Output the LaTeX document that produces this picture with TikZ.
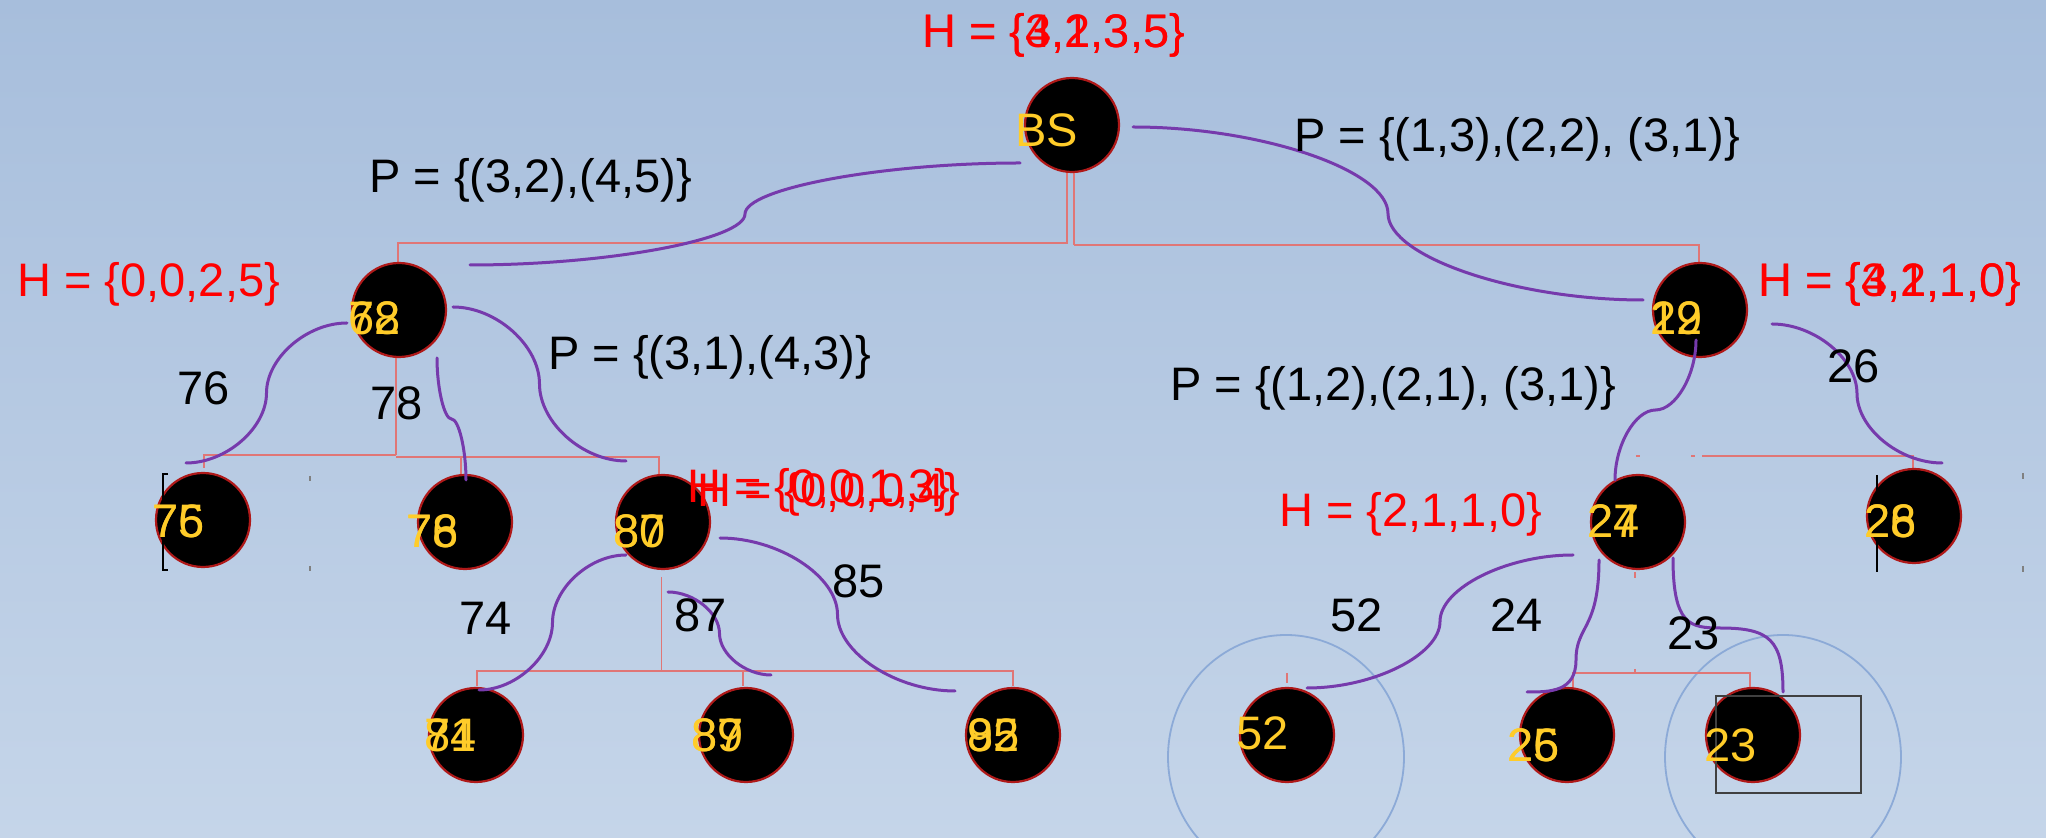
\documentclass[tikz,border=0pt]{standalone}
\usepackage{fontspec}
\setmainfont{Liberation Sans}
\definecolor{bgtop}{RGB}{167,190,220}
\definecolor{bgbot}{RGB}{197,213,233}
\definecolor{orgred}{RGB}{224,118,118}
\definecolor{purp}{RGB}{118,58,172}
\definecolor{gold}{RGB}{255,204,41}
\definecolor{ringred}{RGB}{175,25,25}
\definecolor{hred}{RGB}{255,0,0}
\definecolor{blring}{RGB}{140,170,215}
\definecolor{boxgray}{RGB}{64,64,64}
\begin{document}
\begin{tikzpicture}[x=0.5pt,y=-0.5pt,
 vtx/.style={circle,fill=black,draw=ringred,line width=1.1pt,minimum size=47pt,inner sep=0pt},
 txt/.style={anchor=base west,inner sep=0pt,font=\fontsize{23.5}{28}\selectfont},
 lbl/.style={txt,text=gold},
 htxt/.style={txt,text=hred},
 wtxt/.style={txt,text=black},
 org/.style={draw=orgred,line width=1.4pt},
 thinorg/.style={draw=orgred,line width=0.5pt},
 mp/.style={draw=purp,line width=1.5pt,line cap=round},
 ring/.style={draw=blring,line width=0.9pt},
 cursor/.style={draw=black,line width=1pt},
]
\shade[top color=bgtop,bottom color=bgbot] (0,0) rectangle (2046,838);
\useasboundingbox (0,0) rectangle (2046,838);

% blue rings
\draw[ring] (1286,757) ellipse [x radius=118, y radius=122];
\draw[ring] (1783,757) ellipse [x radius=118, y radius=122];

% org chart connectors (red)
\draw[org] (1067,172) -- (1067,243);
\draw[org] (1074,172) -- (1074,245);
\draw[org] (398,263) -- (398,243) -- (1068,243);
\draw[org] (1074,245) -- (1699,245) -- (1699,263);
\draw[org] (396,358) -- (396,455);
\draw[org] (204,468) -- (204,455) -- (396,455);
\draw[org] (396,457) -- (659,457) -- (659,474);
\draw[org] (461,457) -- (461,474);
\draw[thinorg] (661,577) -- (661,671);
\draw[org] (477,686) -- (477,671) -- (1013,671) -- (1013,686);
\draw[org] (743,671) -- (743,686);
\draw[org] (1702,456) -- (1913,456) -- (1913,472);
\draw[org] (1636,456) -- (1640,456);
\draw[org] (1691,456) -- (1695,456);
\draw[org] (1635,572) -- (1635,578);
\draw[org] (1573,688) -- (1573,673) -- (1750,673) -- (1750,688);
\draw[org] (1635,669) -- (1635,673);
\draw[org] (1287,673) -- (1287,683);

% vertices
\node[vtx] (bs) at (1072,125) {};
\node[vtx] (n62) at (399,310) {};
\node[vtx] (n12) at (1700,310) {};
\node[vtx] (n76) at (203,520) {};
\node[vtx] (n78) at (465,522) {};
\node[vtx] (n80) at (663,522) {};
\node[vtx] (n27) at (1638,522) {};
\node[vtx] (n28) at (1914,516) {};
\node[vtx] (n74) at (476,735) {};
\node[vtx] (n87) at (746,735) {};
\node[vtx] (n92) at (1013,735) {};
\node[vtx] (n52) at (1287,735) {};
\node[vtx] (n25) at (1567,735) {};
\node[vtx] (n23) at (1753,735) {};

% selection box and cursors
\draw[draw=boxgray,line width=1pt] (1716,696) rectangle (1861,793);
\draw[cursor] (168,474) -- (163,474) -- (163,570) -- (168,570);
\draw[draw=gray,line width=0.8pt] (310,476) -- (310,481) (310,566) -- (310,571);
\draw[cursor] (1877,475) -- (1877,572);
\draw[draw=gray,line width=0.8pt] (2023,473) -- (2023,479) (2023,566) -- (2023,572);

% purple curved connectors
\coordinate (p1s) at (1020,163); \coordinate (p1e) at (470,265);
\coordinate (p2s) at (1133,127); \coordinate (p2e) at (1643,300);
\coordinate (p3s) at (347,323);  \coordinate (p3e) at (186,463);
\coordinate (p4s) at (437,358);  \coordinate (p4e) at (466,480);
\coordinate (p5s) at (453,307);  \coordinate (p5e) at (626,461);
\coordinate (p6s) at (626,555);  \coordinate (p6e) at (479,690);
\coordinate (p7s) at (668,592);  \coordinate (p7e) at (771,675);
\coordinate (p8s) at (720,538);  \coordinate (p8e) at (955,691);
\coordinate (p9s) at (1696,340); \coordinate (p9e) at (1615,480);
\coordinate (p10s) at (1772,324); \coordinate (p10e) at (1942,463);
\coordinate (p11s) at (1573,555); \coordinate (p11e) at (1307,688);
\coordinate (p12s) at (1599,560); \coordinate (p12e) at (1527,692);
\coordinate (p13s) at (1673,558); \coordinate (p13e) at (1783,692);
\draw[mp] (p1s) .. controls (882.5,163) and (745,188.5) .. (745,214) .. controls (745,239.5) and (607.5,265) .. (p1e);
\draw[mp] (p2s) .. controls (1260.5,127) and (1388,170.25) .. (1388,213.5) .. controls (1388,256.75) and (1515.5,300) .. (p2e);
\draw[mp] (p3s) .. controls (306.75,323) and (266.5,358) .. (266.5,393) .. controls (266.5,428) and (226.25,463) .. (p3e);
\draw[mp] (p4s) .. controls (437,388.5) and (444.25,419) .. (451.5,419) .. controls (458.75,419) and (466,449.5) .. (p4e);
\draw[mp] (p5s) .. controls (496.25,307) and (539.5,345.5) .. (539.5,384) .. controls (539.5,422.5) and (582.75,461) .. (p5e);
\draw[mp] (p6s) .. controls (589.25,555) and (552.5,588.75) .. (552.5,622.5) .. controls (552.5,656.25) and (515.75,690) .. (p6e);
\draw[mp] (p7s) .. controls (693.75,592) and (719.5,612.75) .. (719.5,633.5) .. controls (719.5,654.25) and (745.25,675) .. (p7e);
\draw[mp] (p8s) .. controls (778.75,538) and (837.5,576.25) .. (837.5,614.5) .. controls (837.5,652.75) and (896.25,691) .. (p8e);
\draw[mp] (p9s) .. controls (1696,375) and (1675.75,410) .. (1655.5,410) .. controls (1635.25,410) and (1615,445) .. (p9e);
\draw[mp] (p10s) .. controls (1814.5,324) and (1857,358.75) .. (1857,393.5) .. controls (1857,428.25) and (1899.5,463) .. (p10e);
\draw[mp] (p11s) .. controls (1506.5,555) and (1440,588.25) .. (1440,621.5) .. controls (1440,654.75) and (1373.5,688) .. (p11e);
\draw[mp] (p12s) .. controls (1599,630) and (1576,625) .. (1576,660) .. controls (1576,692) and (1550,692) .. (p12e);
\draw[mp] (p13s) .. controls (1673,625) and (1690,628) .. (1720,628) .. controls (1770,628) and (1783,640) .. (p13e);

% vertex labels (overlapping pairs)
\node[lbl] (lbs) at (1015,147) {BS};
\node[lbl] (l62a) at (348,335) {62};
\node[lbl] (l62b) at (348,335) {78};
\node[lbl] (l12a) at (1650,335) {12};
\node[lbl] (l12b) at (1650,335) {29};
\node[lbl] (l76a) at (152,538) {76};
\node[lbl] (l76b) at (152,538) {75};
\node[lbl] (l78a) at (406,548) {78};
\node[lbl] (l78b) at (406,548) {76};
\node[lbl] (l80a) at (613,548) {80};
\node[lbl] (l80b) at (613,548) {87};
\node[lbl] (l27a) at (1587,538) {24};
\node[lbl] (l27b) at (1587,538) {27};
\node[lbl] (l28a) at (1864,538) {26};
\node[lbl] (l28b) at (1864,538) {28};
\node[lbl] (l74a) at (424,752) {74};
\node[lbl] (l74b) at (424,752) {81};
\node[lbl] (l87a) at (691,752) {87};
\node[lbl] (l87b) at (691,752) {89};
\node[lbl] (l92a) at (967,752) {92};
\node[lbl] (l92b) at (967,752) {85};
\node[lbl] (l52) at (1236,750) {52};
\node[lbl] (l25a) at (1507,762) {25};
\node[lbl] (l25b) at (1507,762) {26};
\node[lbl] (l23) at (1704,762) {23};

% H sets (red)
\node[htxt] (h1a) at (922,48) {H = \{3,2,3,5\}};
\node[htxt] (h1b) at (922,48) {H = \{4,1,3,5\}};
\node[htxt] (h2) at (17,297) {H = \{0,0,2,5\}};
\node[htxt] (h3a) at (1758,297) {H = \{3,2,1,0\}};
\node[htxt] (h3b) at (1758,297) {H = \{4,1,1,0\}};
\node[htxt] (h4a) at (687,503) {H = \{0,0,1,3\}};
\node[htxt] (h4b) at (697,507) {H = \{0,0,0,4\}};
\node[htxt] (h5) at (1279,527) {H = \{2,1,1,0\}};

% P sets and weights (black)
\node[wtxt] (pa) at (369,193) {P = \{(3,2),(4,5)\}};
\node[wtxt] (pb) at (1294,152) {P = \{(1,3),(2,2), (3,1)\}};
\node[wtxt] (pc) at (548,370) {P = \{(3,1),(4,3)\}};
\node[wtxt] (pd) at (1170,401) {P = \{(1,2),(2,1), (3,1)\}};
\node[wtxt] (w76) at (177,405) {76};
\node[wtxt] (w78) at (370,420) {78};
\node[wtxt] (w26) at (1827,383) {26};
\node[wtxt] (w74) at (459,635) {74};
\node[wtxt] (w87) at (674,632) {87};
\node[wtxt] (w85) at (832,598) {85};
\node[wtxt] (w52) at (1330,632) {52};
\node[wtxt] (w24) at (1490,632) {24};
\node[wtxt] (w23) at (1667,650) {23};
\end{tikzpicture}
\end{document}
